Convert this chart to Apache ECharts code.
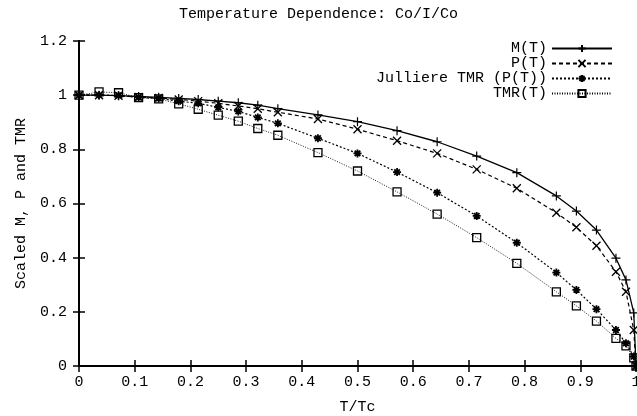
<!DOCTYPE html>
<html><head><meta charset="utf-8">
<script src="https://cdn.jsdelivr.net/npm/echarts@6/dist/echarts.min.js"></script>
<style>html,body{margin:0;padding:0;background:#fff}#c{width:637px;height:416px}</style>
</head><body><div id="c"></div>
<script>
const titleText = 'Temperature Dependence: Co/I/Co';
const xName = 'T/Tc';
const yName = 'Scaled M, P and TMR';
const seriesNames = ['M(T)', 'P(T)', 'Julliere TMR (P(T))', 'TMR(T)'];
const xVals = [0, 0.036, 0.071, 0.107, 0.143, 0.179, 0.214, 0.25, 0.286, 0.321, 0.357, 0.429, 0.5, 0.571, 0.643, 0.714, 0.786, 0.857, 0.893, 0.929, 0.964, 0.982, 0.996, 1];
const mT   = [1, 1.0, 0.998, 0.995, 0.992, 0.988, 0.984, 0.978, 0.972, 0.963, 0.95, 0.927, 0.902, 0.869, 0.828, 0.775, 0.714, 0.628, 0.572, 0.502, 0.398, 0.318, 0.196, 0];
const pT   = [1, 1.0, 0.998, 0.993, 0.99, 0.984, 0.978, 0.97, 0.96, 0.95, 0.937, 0.912, 0.874, 0.832, 0.785, 0.726, 0.656, 0.566, 0.512, 0.444, 0.348, 0.274, 0.133, 0];
const julT = [1, 1.0, 0.999, 0.992, 0.988, 0.978, 0.97, 0.955, 0.94, 0.918, 0.896, 0.841, 0.785, 0.716, 0.64, 0.554, 0.455, 0.345, 0.281, 0.21, 0.133, 0.084, 0.035, 0];
const tmrT = [1, 1.012, 1.009, 0.991, 0.986, 0.968, 0.948, 0.926, 0.904, 0.877, 0.852, 0.788, 0.72, 0.643, 0.561, 0.474, 0.379, 0.274, 0.222, 0.166, 0.102, 0.074, 0.03, 0];
const xRange = [0, 1, 0.1];
const yRange = [0, 1.2, 0.2];

const FONT = 'Liberation Mono';
const symPlus = 'path://M0,5L10,5M5,0L5,10';
const symCross = 'path://M0,0L10,10M10,0L0,10';
const symStar = 'path://M5,0L5,10M0,5L10,5M1.5,1.5L8.5,8.5M8.5,1.5L1.5,8.5';
const symBox = 'path://M0,0L10,0L10,10L0,10Z';

function pts(arr){ return xVals.map((x,i)=>[x, arr[i]]); }

const axisCommon = {
  axisLine:{show:true, lineStyle:{color:'#000', width:2}},
  axisTick:{show:true, inside:true, length:6, lineStyle:{color:'#000', width:1.5}},
  splitLine:{show:false}
};

function mk(name, data, sym, size, lineType, lw, bw){
  return {
    name, type:'line', data, symbol:sym, symbolSize:size, showSymbol:true,
    lineStyle:{color:'#000', width:lw, type:lineType},
    itemStyle:{color:'rgba(0,0,0,0)', borderColor:'#000', borderWidth:bw},
    emphasis:{disabled:true}, animation:false, z:3
  };
}

const chart = echarts.init(document.getElementById('c'), null, {renderer:'canvas'});
chart.setOption({
  backgroundColor:'#fff',
  animation:false,
  title:{text:titleText, left:'center', top:7, padding:0, textStyle:{fontFamily:FONT, fontSize:15, fontWeight:'normal', color:'#000'}},
  grid:{left:79, right:1, top:41, bottom:50, containLabel:false, outerBoundsMode:'none'},
  legend:{
    orient:'vertical', right:24, top:41, padding:0, align:'right', itemWidth:60, itemHeight:9, itemGap:0,
    textStyle:{fontFamily:FONT, fontSize:15, color:'#000', lineHeight:14, height:14},
    data:seriesNames
  },
  xAxis:[
    Object.assign({type:'value', min:xRange[0], max:xRange[1], interval:xRange[2], position:'bottom',
      name:xName, nameLocation:'middle', nameGap:34, nameTextStyle:{fontFamily:FONT, fontSize:15, color:'#000'},
      axisLabel:{fontFamily:FONT, fontSize:15, color:'#000', margin:9}}, axisCommon),
    Object.assign({type:'value', min:xRange[0], max:xRange[1], interval:xRange[2], position:'top',
      axisLabel:{show:false}}, axisCommon)
  ],
  yAxis:[
    Object.assign({type:'value', min:yRange[0], max:yRange[1], interval:yRange[2], position:'left',
      name:yName, nameLocation:'middle', nameGap:50, nameRotate:90, nameTextStyle:{fontFamily:FONT, fontSize:15, color:'#000'},
      axisLabel:{fontFamily:FONT, fontSize:15, color:'#000', margin:12}}, axisCommon),
    Object.assign({type:'value', min:yRange[0], max:yRange[1], interval:yRange[2], position:'right',
      axisLabel:{show:false}}, axisCommon)
  ],
  series:[
    mk(seriesNames[0], pts(mT), symPlus, 9, 'solid', 1.3, 1.2),
    mk(seriesNames[1], pts(pT), symCross, 8, [4,3], 1.2, 1.3),
    mk(seriesNames[2], pts(julT), symStar, 8, [2,2], 1.2, 1.8),
    mk(seriesNames[3], pts(tmrT), symBox, 8, [1,1.5], 0.9, 1.3)
  ]
});
</script></body></html>
